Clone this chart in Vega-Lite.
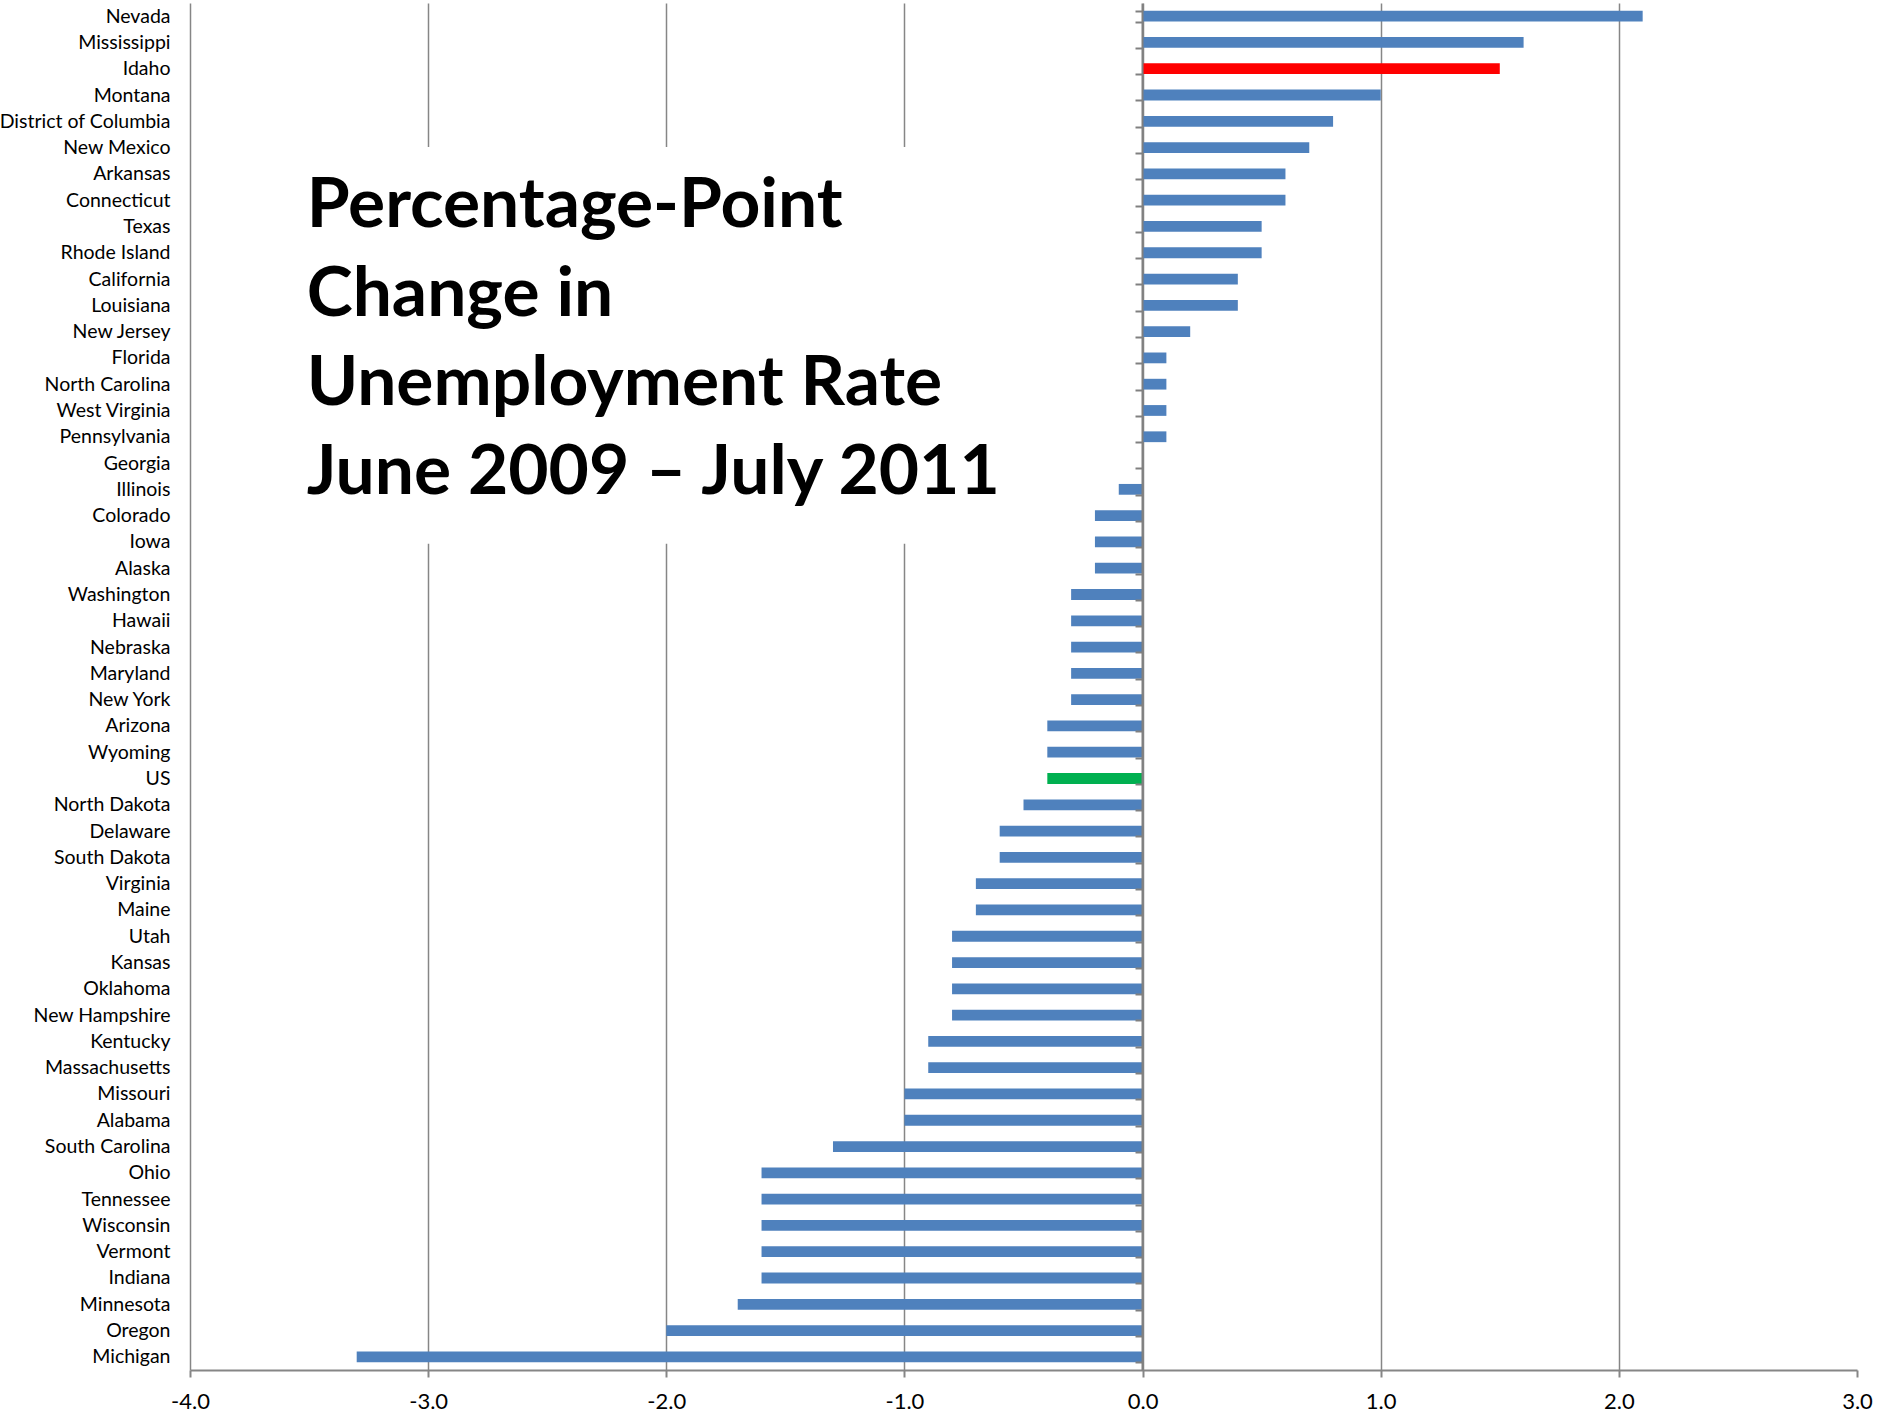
{
  "$schema": "https://vega.github.io/schema/vega-lite/v6.json",
  "width": 1667,
  "height": 1367,
  "autosize": {"type": "none"},
  "padding": {"left": 190, "top": 3, "right": 26, "bottom": 48},
  "background": "white",
  "config": {"view": {"stroke": null}, "font": "Lato"},
  "data": {"values": [
    {"state": "Nevada", "change": 2.1},
    {"state": "Mississippi", "change": 1.6},
    {"state": "Idaho", "change": 1.5},
    {"state": "Montana", "change": 1.0},
    {"state": "District of Columbia", "change": 0.8},
    {"state": "New Mexico", "change": 0.7},
    {"state": "Arkansas", "change": 0.6},
    {"state": "Connecticut", "change": 0.6},
    {"state": "Texas", "change": 0.5},
    {"state": "Rhode Island", "change": 0.5},
    {"state": "California", "change": 0.4},
    {"state": "Louisiana", "change": 0.4},
    {"state": "New Jersey", "change": 0.2},
    {"state": "Florida", "change": 0.1},
    {"state": "North Carolina", "change": 0.1},
    {"state": "West Virginia", "change": 0.1},
    {"state": "Pennsylvania", "change": 0.1},
    {"state": "Georgia", "change": 0.0},
    {"state": "Illinois", "change": -0.1},
    {"state": "Colorado", "change": -0.2},
    {"state": "Iowa", "change": -0.2},
    {"state": "Alaska", "change": -0.2},
    {"state": "Washington", "change": -0.3},
    {"state": "Hawaii", "change": -0.3},
    {"state": "Nebraska", "change": -0.3},
    {"state": "Maryland", "change": -0.3},
    {"state": "New York", "change": -0.3},
    {"state": "Arizona", "change": -0.4},
    {"state": "Wyoming", "change": -0.4},
    {"state": "US", "change": -0.4},
    {"state": "North Dakota", "change": -0.5},
    {"state": "Delaware", "change": -0.6},
    {"state": "South Dakota", "change": -0.6},
    {"state": "Virginia", "change": -0.7},
    {"state": "Maine", "change": -0.7},
    {"state": "Utah", "change": -0.8},
    {"state": "Kansas", "change": -0.8},
    {"state": "Oklahoma", "change": -0.8},
    {"state": "New Hampshire", "change": -0.8},
    {"state": "Kentucky", "change": -0.9},
    {"state": "Massachusetts", "change": -0.9},
    {"state": "Missouri", "change": -1.0},
    {"state": "Alabama", "change": -1.0},
    {"state": "South Carolina", "change": -1.3},
    {"state": "Ohio", "change": -1.6},
    {"state": "Tennessee", "change": -1.6},
    {"state": "Wisconsin", "change": -1.6},
    {"state": "Vermont", "change": -1.6},
    {"state": "Indiana", "change": -1.6},
    {"state": "Minnesota", "change": -1.7},
    {"state": "Oregon", "change": -2.0},
    {"state": "Michigan", "change": -3.3}
  ]},
  "layer": [
    {
      "mark": {"type": "bar"},
      "encoding": {
        "y": {
          "field": "state", "type": "nominal", "sort": null,
          "scale": {
            "domain": ["Nevada","Mississippi","Idaho","Montana","District of Columbia","New Mexico","Arkansas","Connecticut","Texas","Rhode Island","California","Louisiana","New Jersey","Florida","North Carolina","West Virginia","Pennsylvania","Georgia","Illinois","Colorado","Iowa","Alaska","Washington","Hawaii","Nebraska","Maryland","New York","Arizona","Wyoming","US","North Dakota","Delaware","South Dakota","Virginia","Maine","Utah","Kansas","Oklahoma","New Hampshire","Kentucky","Massachusetts","Missouri","Alabama","South Carolina","Ohio","Tennessee","Wisconsin","Vermont","Indiana","Minnesota","Oregon","Michigan"],
            "paddingInner": 0.59, "paddingOuter": 0.295
          },
          "axis": {
            "title": null, "orient": "left", "offset": -952,
            "domain": true, "domainColor": "#808080", "domainWidth": 2,
            "ticks": true, "tickBand": "extent", "tickColor": "#808080", "tickWidth": 2, "tickSize": 7,
            "labelPadding": 965, "labelFont": "Lato", "labelFontSize": 19.5, "labelColor": "#000000",
            "labelAlign": "right", "labelOverlap": false, "grid": false, "zindex": 1
          }
        },
        "x": {
          "field": "change", "type": "quantitative",
          "scale": {"domain": [-4, 3], "nice": false, "zero": false},
          "axis": {
            "title": null, "values": [-4, -3, -2, -1, 0, 1, 2, 3],
            "labelExpr": "(datum.value < 0 ? '-' : '') + format(abs(datum.value), '.1f')",
            "grid": true, "gridColor": "#868686", "gridWidth": 1.5,
            "gridOpacity": {"condition": {"test": "datum.value == 3", "value": 0}, "value": 1},
            "domainColor": "#868686", "domainWidth": 2,
            "tickColor": "#868686", "tickWidth": 2, "tickSize": 7,
            "labelPadding": 14, "labelFont": "Lato", "labelFontSize": 22, "labelColor": "#000000",
            "labelFlush": false, "labelOverlap": false
          }
        },
        "color": {
          "condition": [
            {"test": "datum.state === 'Idaho'", "value": "#FF0000"},
            {"test": "datum.state === 'US'", "value": "#00B050"}
          ],
          "value": "#4F81BD"
        }
      }
    },
    {
      "data": {"values": [{}]},
      "mark": {"type": "rect", "color": "white"},
      "encoding": {
        "x": {"datum": -3.7},
        "x2": {"datum": -0.5},
        "y": {"datum": "New Mexico", "bandPosition": 0.44},
        "y2": {"datum": "Iowa", "bandPosition": 0.67}
      }
    },
    {
      "data": {"values": [{}]},
      "mark": {
        "type": "text",
        "text": ["Percentage-Point", "Change in", "Unemployment Rate", "June 2009 – July 2011"],
        "font": "Lato", "fontWeight": "bold", "fontSize": 69.5, "lineHeight": 89,
        "align": "left", "baseline": "alphabetic", "color": "#000000"
      },
      "encoding": {
        "x": {"datum": -3.51},
        "y": {"datum": "Texas", "bandPosition": 0.56}
      }
    }
  ]
}
